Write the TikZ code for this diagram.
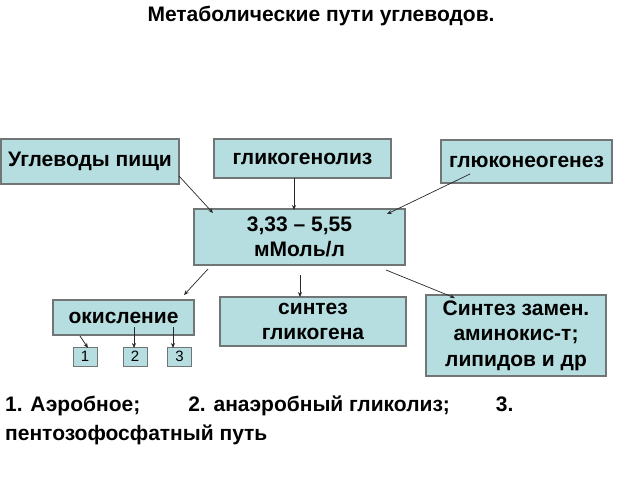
\documentclass[tikz,border=0pt]{standalone}
\usepackage{fontspec}
\setmainfont{Liberation Sans}
\usetikzlibrary{arrows.meta}
\definecolor{boxfill}{RGB}{182,221,223}
\definecolor{boxline}{RGB}{112,118,118}
\definecolor{arr}{RGB}{40,40,40}
\tikzset{
  box/.style={draw=boxline, line width=1.2pt, fill=boxfill, inner sep=0pt,
    font=\fontsize{21}{25}\selectfont\bfseries, align=center},
  conn/.style={draw=arr, line width=0.7pt, -{Stealth[length=5pt,width=4pt]}},
}
\begin{document}
\begin{tikzpicture}[x=1pt,y=-1pt]
\useasboundingbox (0,0) rectangle (640,480);
\node[font=\fontsize{21}{25}\selectfont\bfseries] (title) at (321,16) {Метаболические пути углеводов.};
\node[box, minimum width=178pt, minimum height=45pt] (food) at (90,161.5) {Углеводы пищи};
\node[box, minimum width=177pt, minimum height=39pt] (glgl) at (302.5,158.5) {гликогенолиз};
\node[box, minimum width=171pt, minimum height=43pt] (glneo) at (526.5,161.5) {глюконеогенез};
\node[box, minimum width=211pt, minimum height=56pt] (mid) at (299.5,237) {3,33 – 5,55\\мМоль/л};
\node[box, minimum width=141pt, minimum height=35pt] (oxid) at (123.5,317.5) {окисление};
\node[box, minimum width=186pt, minimum height=49pt] (sgl) at (313,321.5) {синтез\\гликогена};
\node[box, minimum width=180pt, minimum height=81pt, font=\fontsize{21}{25.5}\selectfont\bfseries] (ssz) at (516,335.5) {Синтез замен.\\аминокис-т;\\липидов и др};
\tikzset{small/.style={box, line width=1pt, minimum width=24pt, minimum height=19pt, font=\fontsize{15}{17}\selectfont}}
\node[small] (b1) at (85,356.5) {1};
\node[small] (b2) at (135,356.5) {2};
\node[small] (b3) at (179.5,356.5) {3};
\node[anchor=north west, inner sep=0pt, align=left, font=\fontsize{21}{29}\selectfont\bfseries] (legend) at (5,396)
  {1. Аэробное;\hspace{48pt}2. анаэробный гликолиз;\hspace{46pt}3.\\пентозофосфатный путь};
% connector endpoints
\coordinate (a1s) at (179,176); \coordinate (a1e) at (213,213);
\coordinate (a2s) at (294,178); \coordinate (a2e) at (294,210);
\coordinate (a3s) at (470,174); \coordinate (a3e) at (387,214);
\coordinate (a4s) at (208,269); \coordinate (a4e) at (184,295);
\coordinate (a5s) at (300,275); \coordinate (a5e) at (300,297);
\coordinate (a6s) at (386,270); \coordinate (a6e) at (455,298);
\coordinate (s1s) at (80,336); \coordinate (s1e) at (88,348);
\coordinate (s2s) at (134,327); \coordinate (s2e) at (134,348);
\coordinate (s3s) at (173,327); \coordinate (s3e) at (173,348);
\draw[conn] (a1s) -- (a1e);
\draw[conn] (a2s) -- (a2e);
\draw[conn] (a3s) -- (a3e);
\draw[conn] (a4s) -- (a4e);
\draw[conn] (a5s) -- (a5e);
\draw[conn] (a6s) -- (a6e);
\draw[conn] (s1s) -- (s1e);
\draw[conn] (s2s) -- (s2e);
\draw[conn] (s3s) -- (s3e);
\end{tikzpicture}
\end{document}
